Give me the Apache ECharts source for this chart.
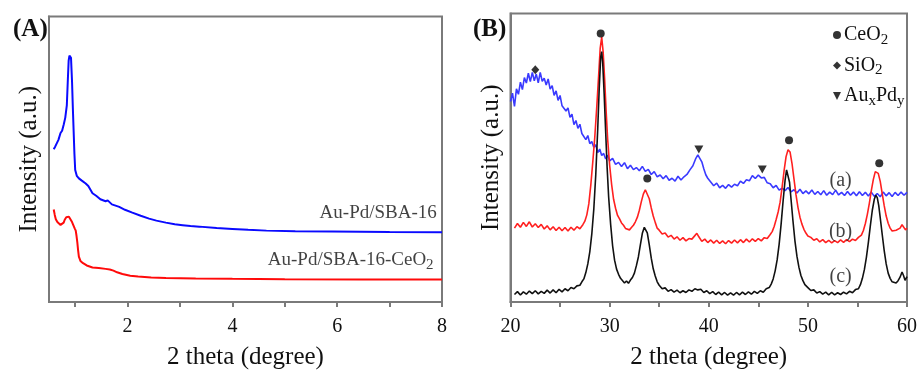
<!DOCTYPE html>
<html>
<head>
<meta charset="utf-8">
<script src="https://cdn.jsdelivr.net/npm/echarts@6/dist/echarts.min.js"></script>
<style>html,body{margin:0;padding:0;background:#fff;}#c{width:920px;height:375px;}</style>
</head>
<body>
<div id="c"></div>
<script>
// ---------- DATA ----------
// Panel A: low-angle XRD, [2theta, intensity a.u.]
var sba16 = [[0.59,53.5],[0.62,54.5],[0.65,55.2],[0.68,56.8],[0.72,59.2],[0.75,60.0],[0.78,62.1],[0.81,64.5],[0.84,68.9],[0.86,78.0],[0.875,84.5],[0.89,86.3],[0.91,86.6],[0.92,85.5],[0.94,77],[0.955,68],[0.97,60],[0.985,52],[1.0,46.2],[1.03,44.2],[1.07,43.3],[1.12,42.6],[1.2,41.5],[1.22,42.2],[1.25,40.6],[1.33,38.1],[1.4,37.2],[1.48,36.0],[1.58,35.3],[1.62,35.6],[1.7,34.2],[1.84,33.3],[1.95,32.3],[2.09,31.3],[2.12,31.6],[2.25,30.2],[2.41,29.2],[2.55,28.5],[2.73,27.8],[2.9,27.2],[3.05,26.9],[3.2,26.6],[3.37,26.4],[3.7,25.9],[4.0,25.6],[4.3,25.3],[4.65,25.0],[5.2,24.8],[5.9,24.7],[7.0,24.5],[8.0,24.4]];
var sba16ceo2 = [[0.59,32.4],[0.61,30.5],[0.63,29.0],[0.66,28.0],[0.69,27.5],[0.72,27.0],[0.75,26.9],[0.78,27.8],[0.8,28.8],[0.83,29.7],[0.86,30.1],[0.88,29.9],[0.91,29.2],[0.94,28.0],[0.97,26.7],[0.99,25.8],[1.01,25.0],[1.025,23.2],[1.04,21.0],[1.055,18.2],[1.07,15.9],[1.1,14.4],[1.15,13.6],[1.22,12.8],[1.33,12.1],[1.45,11.9],[1.58,11.6],[1.66,11.4],[1.73,11.0],[1.8,10.4],[1.9,9.8],[2.05,9.2],[2.2,8.9],[2.45,8.6],[2.73,8.4],[3.3,8.2],[4.0,8.1],[5.0,8.0],[6.5,7.9],[8.0,7.9]];
var ticksA = [2,4,6,8];
var minorA = [1,2,3,4,5,6,7,8];

// Panel B: wide-angle XRD, [2theta, intensity a.u.]
var curveA = [[20.0,69.5],[20.2,72.4],[20.4,67.8],[20.6,73.9],[20.8,72.0],[21.0,76.2],[21.2,73.6],[21.4,77.8],[21.6,75.9],[21.8,79.3],[22.0,76.4],[22.2,79.6],[22.4,76.7],[22.6,79.0],[22.8,76.0],[23.0,79.6],[23.2,76.5],[23.4,77.6],[23.6,75.2],[23.8,77.3],[24.0,73.8],[24.2,75.0],[24.4,71.6],[24.6,73.2],[24.8,69.9],[25.0,71.6],[25.2,68.0],[25.4,68.6],[25.6,66.2],[25.8,67.3],[26.0,64.0],[26.2,65.1],[26.4,61.5],[26.6,62.9],[26.8,60.2],[27.0,61.6],[27.2,58.4],[27.4,59.0],[27.6,56.3],[27.8,57.7],[28.0,54.9],[28.2,55.6],[28.4,53.6],[28.6,54.5],[28.8,51.8],[29.0,53.0],[29.2,50.8],[29.4,51.5],[29.6,49.6],[29.8,50.9],[30.0,48.9],[30.3,49.8],[30.6,47.7],[30.9,48.4],[31.2,47.0],[31.5,48.3],[31.8,46.2],[32.1,47.4],[32.4,45.9],[32.7,46.6],[33.0,45.5],[33.3,47.0],[33.6,45.3],[33.9,46.0],[34.2,44.2],[34.5,45.2],[34.8,43.4],[35.1,44.0],[35.4,42.7],[35.7,43.8],[36.0,42.2],[36.3,42.9],[36.6,41.9],[36.9,43.6],[37.2,42.3],[37.5,43.4],[37.8,44.2],[38.1,45.8],[38.4,47.2],[38.7,49.8],[38.9,51.0],[39.1,50.4],[39.3,48.6],[39.5,46.2],[39.7,44.1],[39.9,42.9],[40.2,41.6],[40.5,40.3],[40.8,41.2],[41.1,39.6],[41.4,40.4],[41.7,39.4],[42.0,40.7],[42.3,39.8],[42.6,40.8],[42.9,40.3],[43.2,41.9],[43.5,41.1],[43.8,42.4],[44.1,42.0],[44.4,43.8],[44.7,42.8],[45.0,44.0],[45.3,43.0],[45.6,43.2],[45.9,41.3],[46.2,41.0],[46.5,39.6],[46.8,40.4],[47.1,38.8],[47.4,39.5],[47.7,38.6],[48.0,39.7],[48.3,38.2],[48.6,38.9],[48.9,37.8],[49.2,39.1],[49.5,37.6],[49.8,38.5],[50.1,37.5],[50.4,38.8],[50.7,37.3],[51.0,38.3],[51.3,37.2],[51.6,38.6],[51.9,37.0],[52.2,38.1],[52.5,37.2],[52.8,38.8],[53.1,37.1],[53.4,38.0],[53.7,36.9],[54.0,38.3],[54.3,37.0],[54.6,38.1],[54.9,36.8],[55.2,38.2],[55.5,36.9],[55.8,38.0],[56.1,36.7],[56.4,38.1],[56.7,36.6],[57.0,37.6],[57.3,36.5],[57.6,38.1],[57.9,36.8],[58.2,37.9],[58.5,36.6],[58.8,38.0],[59.1,36.9],[59.4,38.1],[59.7,37.0],[60.0,38.0]];
var curveB = [[20.4,25.6],[20.7,27.2],[21.0,25.9],[21.3,27.6],[21.6,26.2],[21.9,27.8],[22.2,26.0],[22.5,27.1],[22.8,25.8],[23.1,26.9],[23.4,25.3],[23.7,26.4],[24.0,25.0],[24.3,26.1],[24.6,24.8],[24.9,25.9],[25.2,24.7],[25.5,25.8],[25.8,24.6],[26.1,25.9],[26.4,24.9],[26.7,26.1],[27.0,25.4],[27.3,26.8],[27.5,28.0],[27.7,30.2],[27.9,34.0],[28.1,40.5],[28.3,48.5],[28.5,57.0],[28.7,67.5],[28.9,79.0],[29.05,88.0],[29.2,91.8],[29.35,86.5],[29.5,77.0],[29.65,66.0],[29.8,56.5],[30.0,47.5],[30.2,40.8],[30.4,35.6],[30.6,32.5],[30.8,30.0],[31.0,28.8],[31.2,27.4],[31.4,26.6],[31.6,25.5],[31.8,25.9],[32.0,25.0],[32.2,25.8],[32.4,26.6],[32.6,27.8],[32.8,29.4],[33.0,31.8],[33.2,34.8],[33.4,37.4],[33.6,38.9],[33.8,38.3],[34.0,35.8],[34.2,32.6],[34.4,29.8],[34.6,27.6],[34.8,25.6],[35.0,24.9],[35.3,23.6],[35.6,23.9],[35.9,22.5],[36.2,23.1],[36.5,21.8],[36.8,22.6],[37.1,21.4],[37.4,22.3],[37.7,21.2],[38.0,22.0],[38.3,21.8],[38.6,23.0],[38.8,23.8],[39.0,22.6],[39.3,21.0],[39.6,21.8],[39.9,20.6],[40.2,21.5],[40.5,20.4],[40.8,21.4],[41.1,20.3],[41.4,21.2],[41.7,20.2],[42.0,21.3],[42.3,20.4],[42.6,21.5],[42.9,20.5],[43.2,21.6],[43.5,20.6],[43.8,21.8],[44.1,20.8],[44.4,21.9],[44.7,21.0],[45.0,22.0],[45.3,21.2],[45.6,22.3],[45.9,22.0],[46.2,23.4],[46.4,24.4],[46.6,26.2],[46.8,28.6],[47.0,31.2],[47.2,34.6],[47.4,39.8],[47.6,45.5],[47.8,50.4],[48.0,52.8],[48.2,52.0],[48.4,48.0],[48.6,42.6],[48.8,37.2],[49.0,32.8],[49.2,29.4],[49.4,27.0],[49.6,25.2],[49.8,23.9],[50.0,22.9],[50.3,22.4],[50.6,21.4],[50.9,21.9],[51.2,20.8],[51.5,21.6],[51.8,20.6],[52.1,21.4],[52.4,20.5],[52.7,21.3],[53.0,20.6],[53.3,21.5],[53.6,20.7],[53.9,21.6],[54.2,20.9],[54.5,21.8],[54.8,21.3],[55.1,22.4],[55.4,23.2],[55.6,24.8],[55.8,27.2],[56.0,30.4],[56.2,34.2],[56.4,38.6],[56.6,42.4],[56.8,45.2],[56.95,45.8],[57.1,44.6],[57.3,41.8],[57.5,37.6],[57.7,33.4],[57.9,29.8],[58.1,27.3],[58.3,25.6],[58.5,24.6],[58.7,24.2],[58.9,24.9],[59.1,24.3],[59.3,25.6],[59.5,26.8],[59.7,27.4],[59.85,25.0],[60.0,25.6]];
var curveC = [[20.4,2.6],[20.7,3.6],[21.0,2.4],[21.3,3.5],[21.6,2.7],[21.9,3.8],[22.2,2.9],[22.5,3.9],[22.8,2.8],[23.1,3.7],[23.4,3.0],[23.7,4.1],[24.0,3.1],[24.3,4.2],[24.6,3.2],[24.9,4.4],[25.2,3.5],[25.5,4.6],[25.8,3.9],[26.1,5.0],[26.4,4.6],[26.7,5.6],[27.0,5.8],[27.2,7.0],[27.4,8.0],[27.6,10.2],[27.8,13.2],[28.0,17.4],[28.2,23.5],[28.4,32.0],[28.6,44.0],[28.8,60.0],[28.95,74.0],[29.1,85.0],[29.2,86.8],[29.3,83.0],[29.45,72.0],[29.6,59.0],[29.75,46.5],[29.9,36.5],[30.1,27.0],[30.3,19.5],[30.5,14.5],[30.7,11.4],[30.9,9.6],[31.1,8.2],[31.3,7.6],[31.5,6.6],[31.7,7.3],[31.9,6.5],[32.1,7.6],[32.3,8.5],[32.5,10.0],[32.7,12.6],[32.9,15.6],[33.1,19.8],[33.3,23.8],[33.5,25.9],[33.65,26.1],[33.8,24.0],[34.0,19.8],[34.2,15.2],[34.4,11.5],[34.6,9.0],[34.8,7.0],[35.0,5.8],[35.3,4.6],[35.6,4.9],[35.9,3.7],[36.2,4.3],[36.5,3.4],[36.8,4.1],[37.1,3.2],[37.4,3.9],[37.7,3.3],[38.0,4.2],[38.3,3.7],[38.6,4.6],[38.9,4.2],[39.2,4.4],[39.5,3.3],[39.8,3.9],[40.1,2.9],[40.4,3.6],[40.7,2.6],[41.0,3.4],[41.3,2.5],[41.6,3.3],[41.9,2.4],[42.2,3.2],[42.5,2.4],[42.8,3.3],[43.1,2.5],[43.4,3.4],[43.7,2.6],[44.0,3.5],[44.3,2.7],[44.6,3.7],[44.9,3.0],[45.2,3.9],[45.5,3.4],[45.8,4.6],[46.1,5.0],[46.3,6.2],[46.5,8.0],[46.7,10.8],[46.9,14.6],[47.1,20.0],[47.3,27.0],[47.5,35.0],[47.7,42.2],[47.85,45.8],[48.0,45.2],[48.15,41.5],[48.3,35.6],[48.5,28.0],[48.7,21.0],[48.9,15.8],[49.1,12.0],[49.3,9.2],[49.5,7.4],[49.7,6.0],[50.0,5.0],[50.3,4.0],[50.6,4.2],[50.9,3.1],[51.2,3.6],[51.5,2.7],[51.8,3.4],[52.1,2.5],[52.4,3.3],[52.7,2.5],[53.0,3.2],[53.3,2.6],[53.6,3.4],[53.9,2.8],[54.2,3.7],[54.5,3.2],[54.8,4.3],[55.1,4.6],[55.3,6.0],[55.5,8.2],[55.7,11.2],[55.9,15.4],[56.1,20.6],[56.3,26.4],[56.5,31.8],[56.7,35.6],[56.85,37.0],[57.0,36.2],[57.15,33.4],[57.3,29.2],[57.5,23.4],[57.7,17.8],[57.9,13.2],[58.1,10.0],[58.3,8.2],[58.5,7.0],[58.7,7.6],[58.9,6.6],[59.1,7.4],[59.3,8.6],[59.5,10.4],[59.65,9.2],[59.8,7.5],[60.0,8.8]];
var ceo2Peaks = [[29.1,93.1],[33.8,42.8],[48.1,56.1],[57.2,48.1]];
var sio2Peaks = [[22.5,80.5]];
var auxpdyPeaks = [[39.0,52.9],[45.4,45.9]];
var ticksB = [20,30,40,50,60];
var minorB = [20,25,30,35,40,45,50,55,60];

// curve labels: [x, y, text]
var labelsA = [[7.9,31.1,'Au-Pd/SBA-16'],[7.84,14.6,'Au-Pd/SBA-16-CeO{s|2}']];
var labelsB = [[53.3,42.0,'(a)'],[53.3,24.5,'(b)'],[53.3,8.7,'(c)']];

// ---------- CHART ----------
var FONT = '"Liberation Serif","Times New Roman",serif';
var AX = '#7a7a7a';
var TXT = '#111';
var chart = echarts.init(document.getElementById('c'), null, {renderer:'canvas'});

function xAxisCfg(idx, min, max, labels, ticks){
  return {
    type:'value', gridIndex: idx, min:min, max:max,
    name:'2 theta (degree)', nameLocation:'middle', nameGap:43,
    nameTextStyle:{fontFamily:FONT, fontSize:25, color:TXT},
    axisLine:{show:true, onZero:false, lineStyle:{color:AX, width:2}},
    axisTick:{show:true, inside:false, length:5, customValues:ticks, lineStyle:{color:AX, width:2}},
    axisLabel:{show:true, customValues:labels, margin:15, fontFamily:FONT, fontSize:20, color:TXT},
    splitLine:{show:false}
  };
}
function yAxisCfg(idx){
  return {
    type:'value', gridIndex: idx, min:0, max:100,
    name:'Intensity (a.u.)', nameLocation:'middle', nameGap:7,
    nameTextStyle:{fontFamily:FONT, fontSize:25, color:TXT},
    axisLine:{show:true, lineStyle:{color:AX, width:2}},
    axisTick:{show:false}, axisLabel:{show:false}, splitLine:{show:false}
  };
}
var subRich = {s:{fontFamily:FONT, fontSize:15, color:TXT, padding:[10,0,0,0]}};

function textSeries(xi, yi, arr, pos, size){
  return {
    type:'scatter', xAxisIndex:xi, yAxisIndex:yi, symbolSize:0, silent:true,
    data: arr.map(function(d){return {value:[d[0],d[1]], name:d[2]};}),
    label:{show:true, position:pos, distance:0, formatter:function(p){return p.name;},
      fontFamily:FONT, fontSize:size, color:TXT, rich:subRich},
    z:5
  };
}

var option = {
  animation:false,
  backgroundColor:'#fff',
  title:[
    {text:'(A)', left:8, top:12, textStyle:{fontFamily:FONT, fontSize:25, fontWeight:'bold', color:TXT}},
    {text:'(B)', left:468, top:12, textStyle:{fontFamily:FONT, fontSize:25, fontWeight:'bold', color:TXT}}
  ],
  legend:{
    orient:'vertical', left:828, top:20, itemGap:8, itemWidth:8, itemHeight:8,
    icon:'circle',
    data:[
      {name:'CeO2', icon:'circle'},
      {name:'SiO2', icon:'diamond'},
      {name:'AuxPdy', icon:'path://M0,0 L10,0 L5,10 Z'}
    ],
    formatter:function(n){
      if(n==='CeO2') return 'CeO{s|2}';
      if(n==='SiO2') return 'SiO{s|2}';
      return 'Au{s|x}Pd{s|y}';
    },
    textStyle:{fontFamily:FONT, fontSize:20, color:TXT, padding:[0,0,0,-2], rich:{s:{fontFamily:FONT, fontSize:15, color:TXT, padding:[10,0,0,0]}}}
  },
  grid:[
    {left:49, top:16.5, width:393, height:292.5, show:true, borderColor:AX, borderWidth:2, containLabel:false},
    {left:510.5, top:13.5, width:399, height:295.5, show:true, borderColor:AX, borderWidth:2, containLabel:false}
  ],
  xAxis:[ xAxisCfg(0, 0.5, 8, ticksA, minorA), xAxisCfg(1, 20, 60, ticksB, minorB) ],
  yAxis:[ yAxisCfg(0), yAxisCfg(1) ],
  series:[
    {name:'Au-Pd/SBA-16', type:'line', xAxisIndex:0, yAxisIndex:0, data:sba16, showSymbol:false, smooth:false,
      lineStyle:{color:'#0a0aff', width:2}},
    {name:'Au-Pd/SBA-16-CeO2', type:'line', xAxisIndex:0, yAxisIndex:0, data:sba16ceo2, showSymbol:false,
      lineStyle:{color:'#ff0a0a', width:2}},
    {name:'(a)', type:'line', xAxisIndex:1, yAxisIndex:1, data:curveA, showSymbol:false,
      lineStyle:{color:'#3a3aff', width:1.6}},
    {name:'(b)', type:'line', xAxisIndex:1, yAxisIndex:1, data:curveB, showSymbol:false,
      lineStyle:{color:'#ff2020', width:1.6}},
    {name:'(c)', type:'line', xAxisIndex:1, yAxisIndex:1, data:curveC, showSymbol:false,
      lineStyle:{color:'#111', width:1.6}},
    {name:'CeO2', type:'scatter', xAxisIndex:1, yAxisIndex:1, data:ceo2Peaks, symbol:'circle', symbolSize:8,
      itemStyle:{color:'#000'}, z:4},
    {name:'SiO2', type:'scatter', xAxisIndex:1, yAxisIndex:1, data:sio2Peaks, symbol:'diamond', symbolSize:[8,9],
      itemStyle:{color:'#000'}, z:4},
    {name:'AuxPdy', type:'scatter', xAxisIndex:1, yAxisIndex:1, data:auxpdyPeaks, symbol:'path://M0,0 L10,0 L5,10 Z', symbolSize:[9,8],
      itemStyle:{color:'#000'}, z:4},
    textSeries(0, 0, labelsA, 'left', 19),
    textSeries(1, 1, labelsB, 'inside', 20)
  ]
};
chart.setOption(option);
</script>
</body>
</html>
